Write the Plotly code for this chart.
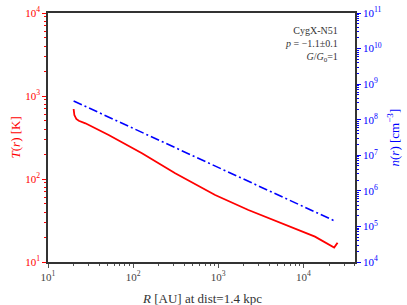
import plotly.graph_objects as go
import numpy as np

# Temperature profile (red)
r_T = [20.0, 20.1, 20.4, 21.0, 21.5, 23.0, 27.5, 51.6, 127, 312, 919, 2260, 5570, 13680, 23000, 25200]
T_vals = [697, 640, 590, 555, 530, 503, 469, 339, 204, 117, 64.1, 42.3, 29.2, 20.2, 14.9, 17.1]

# Density profile (blue)
r_n = [20, 33, 100, 300, 767, 2065, 6000, 24300]
n_vals = [3.36e8, 1.94e8, 5.7e7, 1.71e7, 5.96e6, 2.02e6, 6.3e5, 1.36e5]

x_ticks = [10, 100, 1000, 10000]
x_ticktext = ["10<sup>1</sup>", "10<sup>2</sup>", "10<sup>3</sup>", "10<sup>4</sup>"]
yT_ticks = [10, 100, 1000, 10000]
yT_ticktext = ["10<sup>1</sup>", "10<sup>2</sup>", "10<sup>3</sup>", "10<sup>4</sup>"]
yn_exps = [4, 5, 6, 7, 8, 9, 10, 11]
yn_ticks = [10.0 ** e for e in yn_exps]
yn_ticktext = ["10<sup>%d</sup>" % e for e in yn_exps]

FONT = "Liberation Serif"
RED = "#ff0000"
BLUE = "#0000ff"
AX = "#333333"

fig = go.Figure()
fig.add_trace(go.Scatter(x=r_T, y=T_vals, mode="lines",
                         line=dict(color=RED, width=1.8), yaxis="y", showlegend=False))
fig.add_trace(go.Scatter(x=r_n, y=n_vals, mode="lines",
                         line=dict(color=BLUE, width=1.6, dash="9px,3px,2px,3px"),
                         yaxis="y2", showlegend=False))

fig.update_layout(
    width=407, height=305,
    margin=dict(l=48, r=52, t=13, b=43, autoexpand=False),
    paper_bgcolor="white", plot_bgcolor="white",
    font=dict(family=FONT, size=10, color="#333"),
    xaxis=dict(type="log", range=[1, np.log10(4.04e4)], automargin=False,
               tickmode="array", tickvals=x_ticks, ticktext=x_ticktext,
               ticks="outside", ticklen=4, tickcolor="#555", tickwidth=1,
               minor=dict(ticks="outside", ticklen=2, dtick="D1", tickcolor="#555", showgrid=False),
               showgrid=False, zeroline=False,
               showline=True, linecolor=AX, linewidth=1.5, mirror=True,
               tickfont=dict(family=FONT, size=11, color="#444")),
    yaxis=dict(type="log", range=[1, 4], automargin=False,
               tickmode="array", tickvals=yT_ticks, ticktext=yT_ticktext,
               ticks="outside", ticklen=4, tickcolor=RED, tickwidth=1,
               minor=dict(ticks="outside", ticklen=2, dtick="D1", tickcolor=RED, showgrid=False),
               showgrid=False, zeroline=False,
               showline=True, linecolor=AX, linewidth=1.5,
               tickfont=dict(family=FONT, size=11, color=RED)),
    yaxis2=dict(type="log", range=[4, 11], overlaying="y", side="right", automargin=False,
                tickmode="array", tickvals=yn_ticks, ticktext=yn_ticktext,
                ticks="outside", ticklen=4, tickcolor=BLUE, tickwidth=1,
                minor=dict(ticks="outside", ticklen=2, dtick="D1", tickcolor=BLUE, showgrid=False),
                showgrid=False, zeroline=False,
                showline=True, linecolor=AX, linewidth=1.5,
                tickfont=dict(family=FONT, size=11, color=BLUE)),
)

ann = [
    dict(text="<i>R</i> [AU] at dist=1.4 kpc", x=0.5, y=0, xref="paper", yref="paper",
         xanchor="center", yanchor="middle", yshift=-36, showarrow=False,
         font=dict(family=FONT, size=13, color="#333")),
    dict(text="<i>T</i>(<i>r</i>) [K]", x=0, y=0.5, xref="paper", yref="paper",
         xanchor="center", yanchor="middle", xshift=-33, textangle=-90, showarrow=False,
         font=dict(family=FONT, size=13, color=RED)),
    dict(text="<i>n</i>(<i>r</i>) [cm<sup>−3</sup>]", x=1, y=0.5, xref="paper", yref="paper",
         xanchor="center", yanchor="middle", xshift=38, textangle=-90, showarrow=False,
         font=dict(family=FONT, size=13, color=BLUE)),
    dict(text="CygX-N51<br><i>p</i> = −1.1±0.1<br><i>G</i>/<i>G</i><sub>0</sub>=1",
         x=1, y=1, xref="paper", yref="paper", xanchor="right", yanchor="top",
         xshift=-15, yshift=-10, align="right", showarrow=False,
         font=dict(family=FONT, size=10, color="#333")),
]
fig.update_layout(annotations=ann)

fig.write_html("out.html", config={"displayModeBar": False},
               post_script="document.body.style.margin='0';document.body.style.overflow='hidden';")
